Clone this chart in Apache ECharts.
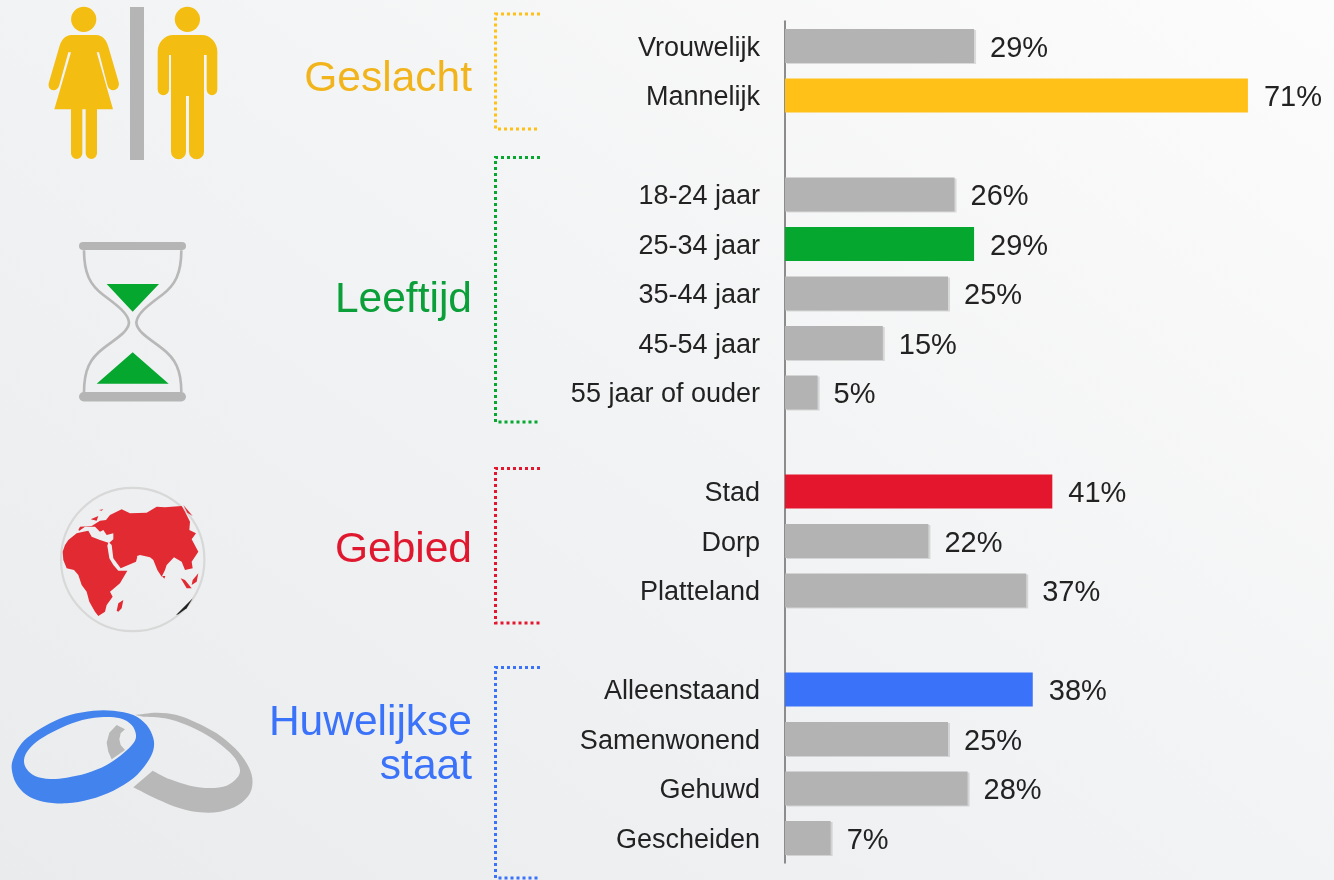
<!DOCTYPE html>
<html>
<head>
<meta charset="utf-8">
<title>Profiel</title>
<script src="https://cdn.jsdelivr.net/npm/echarts@6/dist/echarts.min.js"></script>
<style>
html,body{margin:0;padding:0}
body{background:linear-gradient(215deg,#fcfcfc 0%,#f2f3f4 50%,#e9ebec 100%)}
#chart{width:1334px;height:880px}
</style>
</head>
<body>
<div id="chart"></div>
<script>
// rows, the empty ones are the gaps between the groups
var categories = ['Vrouwelijk','Mannelijk','','18-24 jaar','25-34 jaar','35-44 jaar','45-54 jaar','55 jaar of ouder','','Stad','Dorp','Platteland','','Alleenstaand','Samenwonend','Gehuwd','Gescheiden']
var values = [29,71,null,26,29,25,15,5,null,41,22,37,null,38,25,28,7]
var groupNames = ['Geslacht','Leeftijd','Gebied','Huwelijkse\nstaat']

var yellow = '#FFC018', green = '#05A72F', red = '#E4162E', blue = '#3B72FA', grey = '#B3B3B3'
var accent = {'Mannelijk':yellow,'25-34 jaar':green,'Stad':red,'Alleenstaand':blue}

var font = '"Liberation Sans",Arial,sans-serif'

// icons are traced at 3x from the picture, so they get scaled down here
var iconCount = 0
var icon = (d,fill,ox,oy,extra)=>{
	var name = 'icon'+(iconCount++)
	echarts.graphic.registerShape(name, echarts.graphic.extendPath(d,{}))
	return Object.assign({
		type:name, x:ox, y:oy, scaleX:1/3, scaleY:1/3, silent:true,
		style:{fill:fill}
	}, extra||{})
}
// catmull-rom through the traced points, gives the C commands only
var curve = (p,closed)=>{
	var d = '', n = p.length
	var at = i=>closed ? p[(i+n)%n] : p[Math.max(0,Math.min(n-1,i))]
	for (var i=0; i<(closed?n:n-1); i++) {
		var a = at(i-1), b = at(i), c = at(i+1), e = at(i+2)
		d += `C${b[0]+(c[0]-a[0])/6} ${b[1]+(c[1]-a[1])/6} ${c[0]-(e[0]-b[0])/6} ${c[1]-(e[1]-b[1])/6} ${c[0]} ${c[1]} `
	}
	return d
}
var loop = p=>`M${p[0][0]} ${p[0][1]} `+curve(p,true)+'Z '
var poly = p=>'M'+p.map(q=>q.join(' ')).join(' L')+' Z '
var bracket = (top,bottom,color)=>({
	type:'polyline', silent:true,
	shape:{points:[[540,top],[495.5,top],[495.5,bottom],[540,bottom]]},
	style:{stroke:color,lineWidth:3,lineDash:[3,3],fill:null}
})
var title = (text,y,color)=>({
	type:'text', silent:true, x:472, y:y,
	style:{text:text,font:'42.5px '+font,fill:color,textAlign:'right',textVerticalAlign:'middle',lineHeight:44}
})

var woman = 'M215 105 L288 105 C308 105 320 122 325 140 L356 247 C360 262 348 271 340 271 C332 271 325 266 322 255 L297 157 L290 157 L339 328 L291 328 L291 460 A17 17 0 0 1 257 460 L257 328 L247 328 L247 460 A17 17 0 0 1 213 460 L213 328 L163 328 L213 157 L205 157 L178 255 C175 266 168 271 160 271 C152 271 142 262 147 247 L178 140 C183 122 195 105 215 105 Z'
var man = 'M520 105 L605 105 C632 105 652 128 652 155 L652 268 A16 18 0 0 1 620 268 L620 165 L612 165 L612 455 A22 22 0 0 1 567 455 L567 288 L558 288 L558 455 A22 22 0 0 1 513 455 L513 165 L507 165 L507 268 A17 18 0 0 1 473 268 L473 155 C473 128 493 105 520 105 Z'
var glass = 'M72 61 C72 130 90 165 130 195 C170 225 205 250 207 278 C205 305 170 325 130 355 C90 385 72 420 72 487 M364 61 C364 130 346 165 306 195 C266 225 231 250 229 278 C231 305 266 325 306 355 C346 385 364 420 364 487'

var africa = poly([[38,215],[45,195],[55,180],[80,160],[100,155],[115,152],[125,170],[150,180],[175,188],[172,197],[178,235],[190,255],[205,272],[232,272],[210,310],[180,335],[188,350],[170,375],[165,395],[145,408],[135,395],[118,365],[110,335],[95,315],[85,285],[72,270],[50,265],[40,240]])
var eurasia = poly([[178,188],[190,178],[190,160],[170,165],[160,150],[150,155],[135,140],[105,140],[88,152],[85,150],[90,140],[125,138],[150,122],[168,120],[180,105],[215,88],[240,100],[290,98],[320,80],[345,82],[395,78],[405,95],[420,125],[418,150],[438,160],[425,178],[445,215],[425,245],[428,265],[415,268],[405,270],[395,245],[372,232],[350,255],[345,270],[335,290],[322,270],[310,240],[300,232],[270,225],[255,230],[235,220],[225,200],[235,205],[262,230],[258,245],[212,265],[190,235],[185,195]])
var islands = poly([[200,392],[205,370],[220,360],[215,385],[205,395]]) + poly([[392,295],[405,300],[425,325],[410,325]]) + poly([[428,300],[445,280],[440,305],[425,315]]) + poly([[336,288],[346,288],[343,296]]) + poly([[122,118],[145,108],[140,122]]) + poly([[147,90],[160,88],[155,92]]) + poly([[400,75],[428,108],[412,98]])
var blackMark = poly([[378,405],[428,355],[410,385],[385,403]])

var blueOuter = [[35,205],[42,170],[65,130],[100,100],[150,70],[210,45],[280,32],[340,32],[400,45],[440,75],[460,115],[460,150],[440,190],[400,235],[340,272],[270,298],[200,310],[130,305],[80,285],[48,250]]
// the hole runs the other way round so it stays empty
var blueInner = [[72,180],[80,207],[105,228],[150,237],[200,233],[260,220],[320,195],[370,160],[400,130],[408,105],[395,75],[360,55],[300,52],[230,65],[170,90],[120,118],[85,150]]
var blueRing = loop(blueOuter)+loop(blueInner)
var greyOuter = [[405,45],[470,38],[530,45],[590,68],[650,100],[705,145],[740,190],[757,235],[750,280],[715,315],[660,335],[600,337],[540,325],[470,297],[400,262]]
var greyInner = [[458,212],[510,238],[570,257],[630,264],[680,257],[710,235],[720,210],[705,175],[670,140],[620,105],[560,75],[495,55],[430,50]]
var greyRing = 'M405 45 '+curve(greyOuter,false)+'L458 212 '+curve(greyInner,false)+'Z '
var greyPiece = poly([[350,75],[375,88],[362,100],[358,118],[362,135],[375,150],[335,178],[325,155],[320,128],[328,98]])

var graphics = [
	bracket(14,129,yellow), bracket(157.5,422,green), bracket(468.5,623,red), bracket(667.5,878,blue),
	title(groupNames[0],79,'#F2B41C'), title(groupNames[1],300,'#0A9F38'), title(groupNames[2],550,'#E0182F'), title(groupNames[3],745,blue),
	// toilet sign
	{type:'rect',silent:true,shape:{x:130,y:7,width:14,height:153},style:{fill:'#B5B5B5'}},
	{type:'circle',silent:true,shape:{cx:83.7,cy:19.3,r:12.6},style:{fill:'#F3BD12'}},
	{type:'circle',silent:true,shape:{cx:187.4,cy:19.3,r:12.6},style:{fill:'#F3BD12'}},
	icon(woman,'#F3BD12',0,0), icon(man,'#F3BD12',0,0),
	// hourglass
	icon(glass,null,60,230,{style:{fill:null,stroke:'#B8B8B8',lineWidth:8}}),
	{type:'rect',silent:true,shape:{x:79,y:242,width:107,height:8,r:4},style:{fill:'#B5B5B5'}},
	{type:'rect',silent:true,shape:{x:79,y:392,width:107,height:9.5,r:4.7},style:{fill:'#B5B5B5'}},
	icon('M140 162 L297 162 L218 245 Z M110 461 L326 461 L218 367 Z',green,60,230),
	// globe
	{type:'circle',silent:true,shape:{cx:132.7,cy:559.5,r:71.7},style:{fill:null,stroke:'#D8D8D8',lineWidth:2.2}},
	icon(africa,'#E22A32',50,480), icon(eurasia,'#E22A32',50,480), icon(islands,'#E22A32',50,480), icon(blackMark,'#222',50,480),
	// rings
	icon(greyRing,'#B8B8B8',0,700), icon(greyPiece,'#B8B8B8',0,700),
	icon(blueRing,'#4283EE',0,700)
]

var mychart = echarts.init(document.getElementById('chart'))
mychart.setOption({
	animation:false,
	graphic:{elements:graphics},
	grid:{left:785,top:21.25,width:521.6,height:841.5,outerBoundsMode:'none'},
	xAxis:{type:'value',min:0,max:80,show:false},
	yAxis:{
		type:'category', inverse:true, data:categories,
		axisTick:{show:false},
		axisLine:{lineStyle:{color:'#8C8C8C',width:2}},
		// top aligned with a small line height, pushes the text about 3px down
		axisLabel:{interval:0,margin:25,fontSize:27,fontFamily:font,color:'#222',verticalAlign:'top',lineHeight:5}
	},
	series:[{
		type:'bar', barWidth:34, z:1,
		data:values.map((v,i)=>{
			var c = accent[categories[i]]
			return {
				value:v,
				itemStyle:c ? {color:c} : {color:grey,shadowColor:'rgba(0,0,0,0.12)',shadowOffsetX:2,shadowOffsetY:1}
			}
		}),
		label:{show:true,position:'right',distance:16,offset:[0,2.5],formatter:'{c}%',fontSize:29,fontFamily:font,color:'#222'}
	}]
})
</script>
</body>
</html>
